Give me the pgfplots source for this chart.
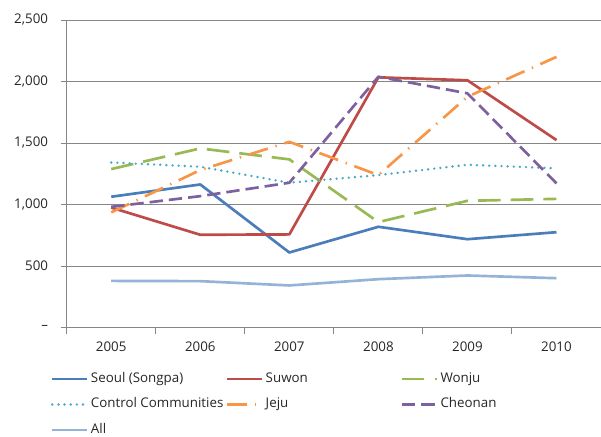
\documentclass[border=0pt]{standalone}
\usepackage{fontspec}
\setmainfont{Open Sans}
\usepackage{pgfplots}
\pgfplotsset{compat=1.18}
\definecolor{cSeoul}{HTML}{4A7EBB}
\definecolor{cSuwon}{HTML}{BE4B48}
\definecolor{cWonju}{HTML}{98B954}
\definecolor{cControl}{HTML}{46AAC5}
\definecolor{cJeju}{HTML}{F79646}
\definecolor{cCheonan}{HTML}{7D60A0}
\definecolor{cAll}{HTML}{95B3D7}
\definecolor{gridgray}{HTML}{868686}
\begin{document}
\begin{tikzpicture}
\useasboundingbox (-50pt,-81.5pt) rectangle (400.5pt,245.5pt);
\begin{axis}[
  at={(0,0)}, anchor=south west,
  scale only axis, width=400.5pt, height=230.5pt,
  xmin=2004.5, xmax=2010.5, ymin=0, ymax=2500,
  axis x line*=bottom, axis y line*=left,
  axis line style={draw=gridgray, line width=0.75pt, -},
  ytick={0,500,1000,1500,2000,2500},
  yticklabels={--,500,{1,000},{1,500},{2,000},{2,500}},
  yticklabel style={xshift=-6pt},
  ymajorgrids, grid style={gridgray, line width=0.75pt},
  xtick={2004.5,2005.5,2006.5,2007.5,2008.5,2009.5,2010.5},
  xticklabels={{},{},{},{},{},{},{}},
  extra x ticks={2005,2006,2007,2008,2009,2010},
  extra x tick labels={2005,2006,2007,2008,2009,2010},
  extra x tick style={major tick length=0pt, grid=none, xticklabel style={yshift=-7.5pt}},
  major tick length=4.5pt, tick align=outside,
  tick style={gridgray, line width=0.75pt},
  tick label style={font=\fontsize{10}{12}\selectfont, text=black!85},
  /pgf/number format/assume math mode=true,
  legend columns=3,
  legend cell align=left,
  legend style={at={(axis description cs:0,0)}, anchor=north west,
    xshift=-15pt, yshift=-29.5pt, draw=none, fill=none,
    font=\fontsize{10}{12}\selectfont, text=black!85,
    column sep=0pt, row sep=5pt,
    nodes={text height=7.5pt, text depth=2.5pt}},
  legend image code/.code={\draw[#1] (0pt,0pt) -- (26pt,0pt);},
  every axis plot/.append style={line width=2pt, line join=round},
]
\addplot[cSeoul] coordinates {(2005,1063) (2006,1163) (2007,610) (2008,819) (2009,718) (2010,775)};
\addlegendentry{\makebox[99pt][l]{Seoul (Songpa)}}
\addplot[cSuwon] coordinates {(2005,975) (2006,754) (2007,757) (2008,2034) (2009,2010) (2010,1524)};
\addlegendentry{\makebox[99pt][l]{Suwon}}
\addplot[cWonju, dash pattern=on 17pt off 7.5pt] coordinates {(2005,1288) (2006,1456) (2007,1367) (2008,857) (2009,1030) (2010,1046)};
\addlegendentry{\makebox[99pt][l]{Wonju}}
\addplot[cControl, line cap=round, dash pattern=on 0pt off 4.6pt] coordinates {(2005,1342) (2006,1307) (2007,1177) (2008,1239) (2009,1323) (2010,1294)};
\addlegendentry{\makebox[99pt][l]{Control Communities}}
\addplot[cJeju, dash pattern=on 15pt off 6pt on 1pt off 6pt] coordinates {(2005,936) (2006,1280) (2007,1510) (2008,1239) (2009,1876) (2010,2200)};
\addlegendentry{\makebox[99pt][l]{Jeju}}
\addplot[cCheonan, dash pattern=on 10pt off 4.5pt] coordinates {(2005,981) (2006,1068) (2007,1177) (2008,2039) (2009,1904) (2010,1172)};
\addlegendentry{\makebox[99pt][l]{Cheonan}}
\addplot[cAll] coordinates {(2005,379) (2006,377) (2007,342) (2008,393) (2009,423) (2010,401)};
\addlegendentry{\makebox[99pt][l]{All}}
\end{axis}
\end{tikzpicture}
\end{document}
